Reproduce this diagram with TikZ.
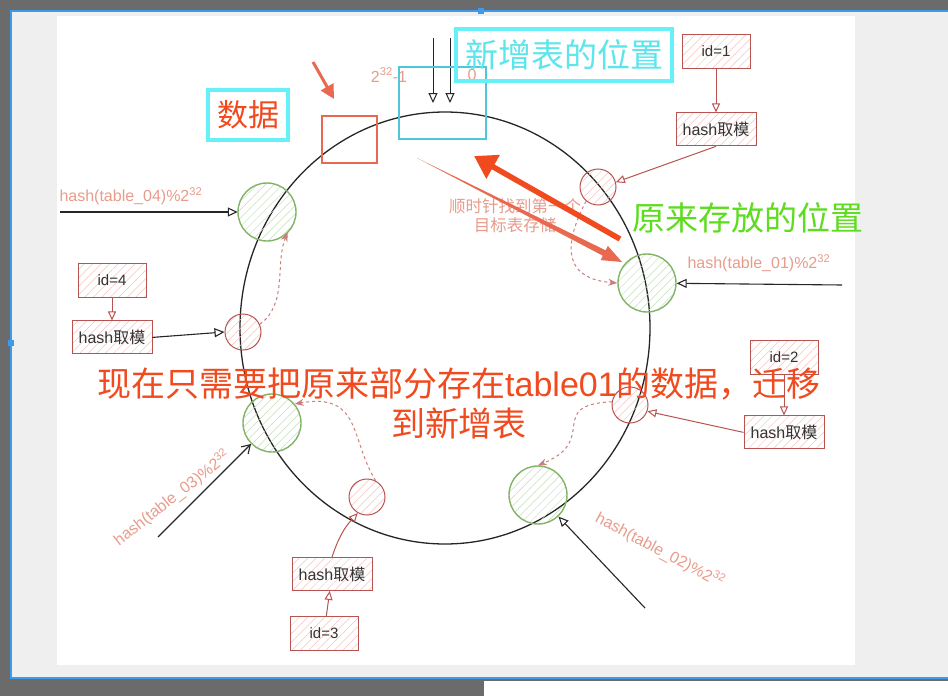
\documentclass[tikz,border=0pt]{standalone}
\usepackage{fontspec}
\setmainfont{Liberation Sans}
\newfontfamily\cjk{Noto Sans CJK SC}
\usetikzlibrary{positioning, arrows.meta, patterns.meta, shapes.geometric}

\definecolor{boxred}{HTML}{B85450}
\definecolor{hatchred}{HTML}{F4C4C0}
\definecolor{tabgreen}{HTML}{82B366}
\definecolor{hatchgreen}{HTML}{C4DDBA}
\definecolor{lblsalmon}{HTML}{E89C8C}
\definecolor{hintcyan}{HTML}{66F0F8}
\definecolor{newcyan}{HTML}{50C6D8}
\definecolor{markred}{HTML}{F04A1E}
\definecolor{pathred}{HTML}{E8694F}
\definecolor{okgreen}{HTML}{5EDC1E}
\definecolor{shotgray}{HTML}{6B6B6B}
\definecolor{panelgray}{HTML}{EFEFEF}
\definecolor{selblue}{HTML}{3D9BE9}

\begin{document}
\begin{tikzpicture}[x=1pt, y=-1pt,
    idbox/.style={draw=boxred, line width=0.9pt, pattern={Lines[angle=45, distance=6pt, line width=0.5pt]}, pattern color=hatchred,
        minimum width=68pt, minimum height=34pt, inner sep=0pt, text=black!80, font=\fontsize{15}{16}\selectfont},
    hashbox/.style={idbox, minimum width=80pt, minimum height=33pt, font=\fontsize{16}{18}\selectfont},
    datapt/.style={circle, draw=boxred, line width=1pt, pattern={Lines[angle=45, distance=6pt, line width=0.5pt]}, pattern color=hatchred,
        minimum size=36pt, inner sep=0pt},
    tablept/.style={circle, draw=tabgreen, line width=1.4pt, pattern={Lines[angle=45, distance=6pt, line width=0.5pt]}, pattern color=hatchgreen,
        minimum size=58pt, inner sep=0pt},
    feed/.style={boxred, line width=1pt, -{Triangle[open, length=9pt, width=8pt]}},
    walk/.style={boxred!75, dashed, line width=1pt, -{Stealth[length=9pt, width=7pt]}},
    hashin/.style={black!85, line width=1.1pt, -{Triangle[open, length=10pt, width=9pt]}},
    lbl/.style={text=lblsalmon, font=\fontsize{16}{18}\selectfont},
    hint/.style={draw=hintcyan, line width=4pt, inner sep=0pt}
]
    \useasboundingbox (0,0) rectangle (948,696);

    % --- screenshot frame
    \fill[shotgray] (0,0) rectangle (948,696);
    \fill[panelgray] (11,11) rectangle (948,678);
    \fill[white] (57,16) rectangle (855,665);
    \fill[white] (484,681) rectangle (948,696);
    \draw[selblue, line width=1.2pt] (948,11) -- (11,11) -- (11,678) -- (948,678);
    \fill[selblue] (478,8) rectangle (484,14);
    \fill[selblue] (8,340) rectangle (14,346);

    % --- hash ring
    \node[ellipse, draw=black!85, line width=1.3pt, minimum width=410pt, minimum height=432pt, inner sep=0pt] (ring) at (445,328) {};

    % --- tables on the ring
    \node[tablept] (t04) at (267,212) {};
    \node[tablept] (t01) at (647,283) {};
    \node[tablept] (t02) at (538,495) {};
    \node[tablept] (t03) at (272,423) {};

    % --- data on the ring
    \node[datapt] (d1) at (598,187) {};
    \node[datapt] (d4) at (243,332) {};
    \node[datapt] (d2) at (630,405) {};
    \node[datapt] (d3) at (367,497) {};

    % --- id boxes and hash boxes
    \node[idbox] (id1) at (716,51) {id=1};
    \node[hashbox, below=44pt of id1] (h1) {hash{\cjk 取模}};
    \node[idbox] (id4) at (112,280) {id=4};
    \node[hashbox, below=23pt of id4] (h4) {hash{\cjk 取模}};
    \node[idbox] (id2) at (784,357) {id=2};
    \node[hashbox, below=41pt of id2] (h2) {hash{\cjk 取模}};
    \node[hashbox] (h3) at (332,574) {hash{\cjk 取模}};
    \node[idbox, below=25pt of h3, xshift=-8pt] (id3) {id=3};

    \draw[feed] (id1) -- (h1);
    \draw[feed] (h1.south) -- (d1.15);
    \draw[feed] (id4) -- (h4);
    \draw[hashin] (h4.east) -- (d4.west);
    \draw[feed] (id2) -- (h2);
    \draw[feed] (h2.west) -- (d2.-20);
    \draw[feed] (id3) -- (h3);
    \draw[feed] (h3.north) to[bend left=12] (d3.240);

    % --- clockwise walk to the next table
    \draw[walk] (d1.230) .. controls (572,228) and (552,278) .. (t01.west);
    \draw[walk] (d4.25) .. controls (288,305) and (275,262) .. (t04.-45);
    \draw[walk] (d2.170) .. controls (545,405) and (600,440) .. (t02.north);
    \draw[walk] (d3.62) .. controls (350,440) and (362,392) .. (t03.40);

    % --- table hashes
    \coordinate (s04) at (60,212);
    \coordinate (s01) at (842,285);
    \coordinate (s02) at (645,608);
    \coordinate (s03) at (158,537);
    \draw[hashin] (s04) -- (t04);
    \draw[hashin] (s01) -- (t01);
    \draw[hashin] (s02) -- (t02);
    \draw[black!85, line width=1.1pt, -{Straight Barb[length=8pt, width=10pt]}] (s03) -- (t03);

    \node[lbl, anchor=west] (l04) at (56,196) {hash(table\_04)\%2\textsuperscript{32}};
    \node[lbl, anchor=west] (l01) at (684,263) {hash(table\_01)\%2\textsuperscript{32}};
    \node[lbl, rotate=-28] (l02) at (660,550) {hash(table\_02)\%2\textsuperscript{32}};
    \node[lbl, rotate=38] (l03) at (172,498) {hash(table\_03)\%2\textsuperscript{32}};

    % --- ring start
    \node[lbl] (top) at (389,75) {2\textsuperscript{32}-1};
    \node[lbl] (zero) at (472,75) {0};
    \coordinate (a1) at (433,38);
    \coordinate (b1) at (433,103);
    \coordinate (a2) at (450,38);
    \coordinate (b2) at (450,103);
    \draw[hashin, line width=1pt] (a1) -- (b1);
    \draw[hashin, line width=1pt] (a2) -- (b2);

    % --- marks
    \node[draw=newcyan, line width=2.5pt, minimum width=87pt, minimum height=72pt] (slot) at (442.5,103) {};
    \node[draw=pathred, line width=2.5pt, minimum width=55pt, minimum height=47pt] (datarect) at (349.5,139.5) {};
    \node[hint, minimum width=216pt, minimum height=52pt, text=hintcyan!90!teal, font=\cjk\fontsize{33}{36}\selectfont] (newlbl) at (564,55) {新增表的位置};
    \node[hint, minimum width=80pt, minimum height=50pt, text=markred, font=\cjk\fontsize{31}{34}\selectfont] (datalbl) at (248,115) {数据};
    \coordinate (p1) at (313,62);
    \coordinate (p2) at (334,99);
    \draw[pathred, line width=3pt, -{Triangle[length=14pt, width=14pt]}] (p1) -- (p2);

    \node[lbl, align=center, font=\cjk\fontsize{16.5}{19}\selectfont] (walklbl) at (515,216) {顺时针找到第一个\\目标表存储};
    \fill[pathred] (417,158) -- (605.6,250.3) -- (607.8,245.9) -- (622,262) -- (600.6,260.1) -- (602.8,255.7) -- cycle;
    \coordinate (backtail) at (620,239);
    \coordinate (backtip) at (474,156);
    \draw[markred, line width=5.5pt, -{Triangle[length=22pt, width=26pt]}] (backtail) -- (backtip);

    \node[text=okgreen, font=\cjk\fontsize{33}{36}\selectfont] (oldlbl) at (748,218) {原来存放的位置};
    \node[text=markred, align=center, font=\fontsize{34}{40}\selectfont] (note) at (459,403)
        {{\cjk 现在只需要把原来部分存在}table01{\cjk 的数据，迁移}\\{\cjk 到新增表}};
\end{tikzpicture}
\end{document}
